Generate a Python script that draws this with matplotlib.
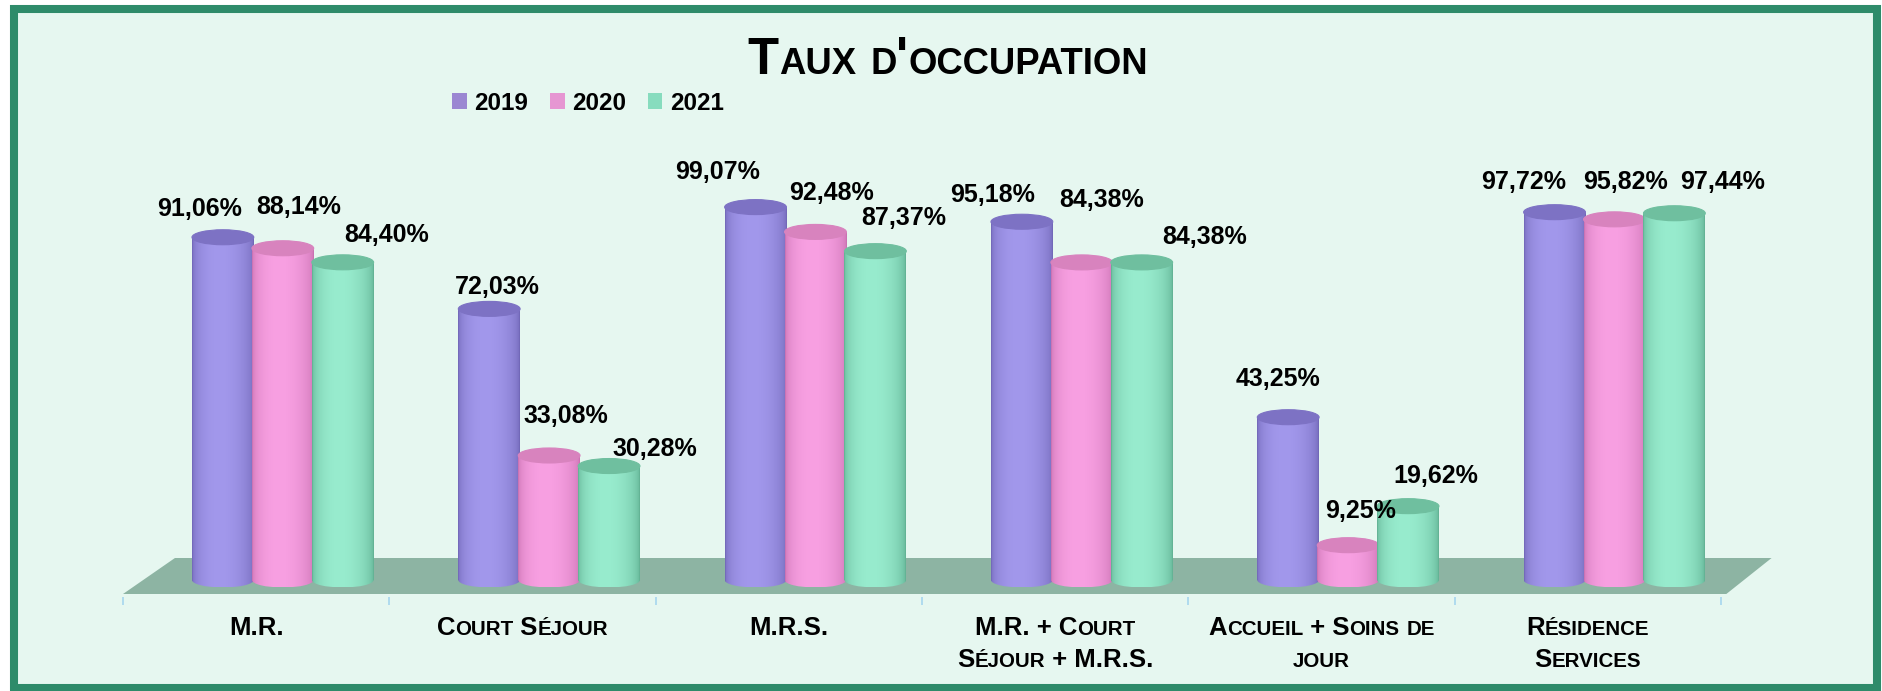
import numpy as np
import matplotlib
matplotlib.use("Agg")
import matplotlib.pyplot as plt
from matplotlib.patches import Ellipse, Polygon, Rectangle, Patch
from matplotlib.offsetbox import TextArea, HPacker, VPacker, AnnotationBbox
from matplotlib.transforms import blended_transform_factory

W, H = 1883, 691

categories = ["M.R.", "Court Séjour", "M.R.S.", "M.R. + Court\nSéjour + M.R.S.",
              "Accueil + Soins de\njour", "Résidence\nServices"]
years = ["2019", "2020", "2021"]
v2019 = [91.06, 72.03, 99.07, 95.18, 43.25, 97.72]
v2020 = [88.14, 33.08, 92.48, 84.38, 9.25, 95.82]
v2021 = [84.40, 30.28, 87.37, 84.38, 19.62, 97.44]
series = [v2019, v2020, v2021]

# cylinder colours: legend, light body, dark edge, top
legend_cols = ["#9b87d2", "#e696d2", "#87dcbe"]
light_cols = [(162, 152, 236), (248, 160, 226), (152, 236, 206)]
edge_cols = [(112, 102, 182), (200, 112, 176), (96, 176, 146)]
top_cols = ["#7d72c4", "#d883be", "#6fbf9f"]

# label offsets in pixels (x right, y up) from the top of each cylinder
lab_dx = [[-23, 8, -38, -29, -10, -31],
          [16, 17, 16, 20, 12, 11],
          [44, 46, 28, 63, 28, 48]]
lab_dy = [[28, 22, 35, 27, 38, 30],
          [41, 39, 39, 62, 34, 37],
          [27, 17, 33, 25, 30, 31]]

FONT = "Liberation Sans"
PX = 3.764  # pixels per percent

fig = plt.figure(figsize=(W / 100, H / 100), dpi=100)
fig.patch.set_facecolor("white")
frame = Rectangle((14 / W, (H - 688) / H), (1877 - 14) / W, (688 - 9) / H,
                  transform=fig.transFigure, facecolor="#e6f7f0",
                  edgecolor="#2e8b6a", linewidth=5.8, zorder=-5)
fig.patches.append(frame)

ax = fig.add_axes([123 / W, (H - 600) / H, (1721 - 123) / W, (600 - 140) / H])
ax.set_zorder(2)
ax.set_facecolor("none")
ax.axis("off")

# floor
y_front, y_back = -14 / PX, 22 / PX
floor = Polygon([(-0.5, y_front), (5.52, y_front), (5.69, y_back), (-0.305, y_back)],
                closed=True, facecolor="#8db4a3", edgecolor="none", zorder=1,
                clip_on=False)
ax.add_patch(floor)
ax.vlines(np.arange(-0.5, 6.0, 1.0), -6.6, -4.6, color="#a6d6ee", lw=1.2,
          clip_on=False, zorder=1)

# cylinders
bw = 0.232
ey = 15 / PX
t = np.linspace(0, 1, 80)
m = np.sin(np.pi * t ** 0.85) ** 0.45
for s, vals in enumerate(series):
    lc = np.array(light_cols[s]) / 255
    dc = np.array(edge_cols[s]) / 255
    grad = (dc[None, :] + (lc - dc)[None, :] * m[:, None])[None, :, :]
    for i, v in enumerate(vals):
        xc = i + 0.1 + (s - 1) * 0.225
        z = 3 + s
        rect = Rectangle((xc - bw / 2, 0), bw, v, facecolor="none", edgecolor="none")
        ax.add_patch(rect)
        im = ax.imshow(grad, extent=[xc - bw / 2, xc + bw / 2, 0, v], aspect="auto",
                       interpolation="bilinear", zorder=z)
        im.set_clip_path(rect)
        bot = Ellipse((xc, 0), bw, ey, facecolor="none", edgecolor="none")
        ax.add_patch(bot)
        im2 = ax.imshow(grad, extent=[xc - bw / 2, xc + bw / 2, -ey / 2, ey / 2],
                        aspect="auto", interpolation="bilinear", zorder=z)
        im2.set_clip_path(bot)
        ax.add_patch(Ellipse((xc, v), bw, ey, facecolor=top_cols[s],
                             edgecolor=top_cols[s], lw=0.8, zorder=z + 0.1))
        txt = f"{v:.2f}%".replace(".", ",")
        ax.annotate(txt, (xc, v), xytext=(lab_dx[s][i], lab_dy[s][i]),
                    textcoords="offset pixels", ha="center", va="center",
                    fontsize=18, fontweight="bold", family=FONT, zorder=10)

ax.set_xlim(-0.5, 5.5)
ax.set_ylim(-20 / PX, 440 / PX)


def smallcaps(s, size, ratio=0.78, pad_space=False):
    runs = []
    for ch in s:
        small = ch.islower()
        if runs and runs[-1][1] == small:
            runs[-1][0] += ch
        else:
            runs.append([ch, small])
    props = dict(fontweight="bold", family=FONT)
    boxes = [TextArea(txt.upper(), textprops=dict(fontsize=size * ratio if sm else size, **props))
             for txt, sm in runs]
    if pad_space:
        boxes = ([TextArea(" ", textprops=dict(fontsize=size, **props))] + boxes
                 + [TextArea(" ", textprops=dict(fontsize=size, **props))])
    return HPacker(children=boxes, align="baseline", pad=0, sep=0)


def smallcaps_block(s, size, ratio=0.78, sep=4):
    lines = [smallcaps(line, size, ratio, pad_space=True) for line in s.split("\n")]
    return VPacker(children=lines, align="center", pad=0, sep=sep)


# title
title = AnnotationBbox(smallcaps("Taux d'occupation", 36.5, 0.72), (948 / W, 1 - 60 / H),
                       xycoords="figure fraction", frameon=False, box_alignment=(0.5, 0.5))
fig.add_artist(title)

# category labels
trans = blended_transform_factory(ax.transData, fig.transFigure)
for i, cat in enumerate(categories):
    ab = AnnotationBbox(smallcaps_block(cat, 18.5, 0.8, sep=6), (i, 1 - 616 / H),
                        xycoords=trans, frameon=False, box_alignment=(0.5, 1.0))
    fig.add_artist(ab)

handles = [Patch(facecolor=c, edgecolor="none") for c in legend_cols]
fig.legend(handles, years, ncol=3, loc="center", bbox_to_anchor=(588 / W, 1 - 103 / H),
           frameon=False, handlelength=0.6, handleheight=0.6, handletextpad=0.3,
           columnspacing=0.9, borderaxespad=0,
           prop=dict(family=FONT, weight="bold", size=17.5))

fig.savefig("out.png", dpi=100, facecolor=fig.get_facecolor())
